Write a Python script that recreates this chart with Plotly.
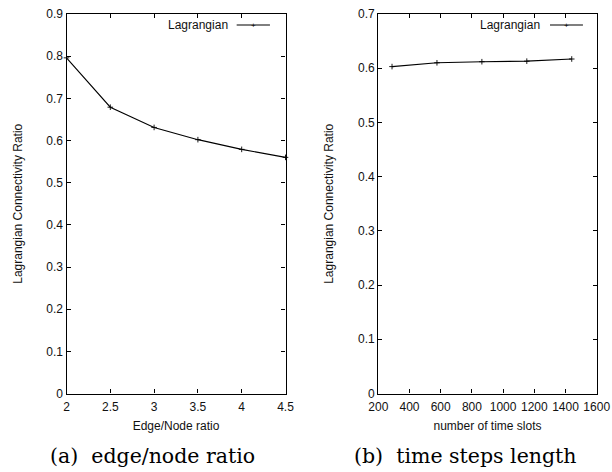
import plotly.graph_objects as go

# Data
edge_node_ratio = [2, 2.5, 3, 3.5, 4, 4.5]
ratio_a = [0.796, 0.679, 0.631, 0.602, 0.579, 0.560]

time_slots = [288, 576, 864, 1152, 1440]
ratio_b = [0.603, 0.610, 0.612, 0.613, 0.617]

series_name = "Lagrangian"
y_title = "Lagrangian Connectivity Ratio"
x_title_a = "Edge/Node ratio"
x_title_b = "number of time slots"
caption_a = "(a)\u00a0 edge/node ratio"
caption_b = "(b)\u00a0 time steps length"

W, H = 612, 472
FONT = "Liberation Sans, Arial, sans-serif"
SERIF = "DejaVu Serif, serif"

dom_a = [66.5 / W, 285.5 / W]
dom_b = [378.3 / W, 596.7 / W]
dom_y = [1 - 393.5 / H, 1 - 14 / H]

fig = go.Figure()

line_style = dict(color="black", width=1.1)
marker_style = dict(symbol="cross-thin", size=4, line=dict(color="black", width=0.9))

fig.add_trace(go.Scatter(x=edge_node_ratio, y=ratio_a, mode="lines+markers",
                         line=line_style, marker=marker_style, name=series_name,
                         xaxis="x", yaxis="y", showlegend=False, cliponaxis=False))
fig.add_trace(go.Scatter(x=time_slots, y=ratio_b, mode="lines+markers",
                         line=line_style, marker=marker_style, name=series_name,
                         xaxis="x2", yaxis="y2", showlegend=False, cliponaxis=False))

axis_common = dict(
    showline=True, linecolor="black", linewidth=1.3, mirror="ticks",
    ticks="inside", ticklen=4, tickwidth=1, tickcolor="black",
    showgrid=False, zeroline=False, automargin=False,
    tickfont=dict(family=FONT, size=12, color="#111"),
    title_font=dict(family=FONT, size=12, color="#111"),
)

fig.update_layout(
    template="none",
    width=W, height=H,
    margin=dict(l=0, r=0, t=0, b=0, autoexpand=False),
    paper_bgcolor="white", plot_bgcolor="white",
    showlegend=False,
    xaxis=dict(domain=dom_a, range=[2, 4.5], dtick=0.5, anchor="y",
               ticklabelstandoff=2,
               title=dict(text=x_title_a, standoff=8), **axis_common),
    yaxis=dict(domain=dom_y, range=[0, 0.9], dtick=0.1, anchor="x",
               tickformat="~g",
               title=dict(text=y_title, standoff=21), **axis_common),
    xaxis2=dict(domain=dom_b, range=[200, 1600], dtick=200, anchor="y2",
                ticklabelstandoff=2,
                title=dict(text=x_title_b, standoff=8), **axis_common),
    yaxis2=dict(domain=dom_y, range=[0, 0.7], dtick=0.1, anchor="x2",
                tickformat="~g",
                title=dict(text=y_title, standoff=21), **axis_common),
)

# Legends (gnuplot style: text then line sample)
legend_pos = (
    ("x domain", "y domain", 0.745, 0.777, 0.929, 0.856),
    ("x2 domain", "y2 domain", 0.75, 0.786, 0.937, 0.864),
)
for xr, yr, xt, x0, x1, xm in legend_pos:
    fig.add_shape(type="line", xref=xr, yref=yr, x0=x0, x1=x1, y0=0.971, y1=0.971,
                  line=dict(color="black", width=1.1))
    fig.add_annotation(xref=xr, yref=yr, x=xm, y=0.971, text="+", showarrow=False,
                       font=dict(family=FONT, size=8, color="black"),
                       xanchor="center", yanchor="middle")
    fig.add_annotation(xref=xr, yref=yr, x=xt, y=0.971, text=series_name,
                       showarrow=False, xanchor="right", yanchor="middle",
                       font=dict(family=FONT, size=12, color="#111"))

# Captions
fig.add_annotation(xref="paper", yref="paper", x=152 / W, y=1 - 456 / H, text=caption_a,
                   showarrow=False, xanchor="center", yanchor="middle",
                   font=dict(family=SERIF, size=20.5, color="black"))
fig.add_annotation(xref="paper", yref="paper", x=465 / W, y=1 - 456 / H, text=caption_b,
                   showarrow=False, xanchor="center", yanchor="middle",
                   font=dict(family=SERIF, size=20.5, color="black"))

fig.write_html("out.html", config={"displayModeBar": False},
               post_script="document.body.style.margin='0';")
